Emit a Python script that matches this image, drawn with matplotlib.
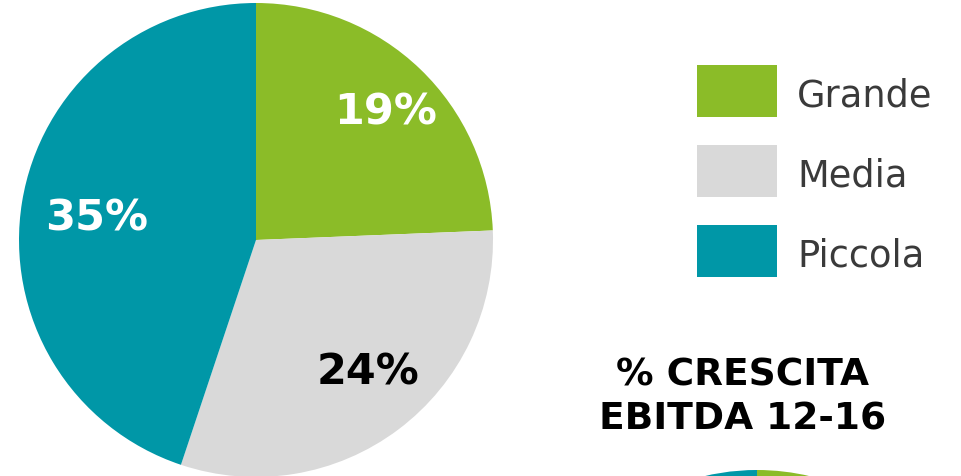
import numpy as np
import matplotlib
matplotlib.use("Agg")
import matplotlib.pyplot as plt
from matplotlib.patches import Rectangle

# ---- data ----
categories = ["Grande", "Media", "Piccola"]
share_values = [19, 24, 35]
share_labels = ["19%", "24%", "35%"]
growth_values = [30, 30, 40]  # second pie (only its top edge is visible)
title_lines = ["% CRESCITA", "EBITDA 12-16"]

colors = ["#8BBC28", "#D9D9D9", "#0097A7"]
label_colors = ["white", "black", "white"]
label_dist = [0.77, 0.73, 0.68]
label_nudge_x = [3, 8, 0]
label_nudge_y = [-4, 6, -4]

W, H = 962, 476
fig = plt.figure(figsize=(W / 100, H / 100), dpi=100)
ax = fig.add_axes([0, 0, 1, 1])
plt.rcParams["font.family"] = ["DejaVu Sans"]

# main pie
c1 = (256, H - 240)
r1 = 237
wedges, _ = ax.pie(share_values, colors=colors, startangle=90, counterclock=False,
                   center=c1, radius=r1, frame=True,
                   wedgeprops=dict(linewidth=0))
for w, lab, col, d, nx, ny in zip(wedges, share_labels, label_colors, label_dist,
                                  label_nudge_x, label_nudge_y):
    ang = np.deg2rad((w.theta1 + w.theta2) / 2)
    x = c1[0] + d * r1 * np.cos(ang) + nx
    y = c1[1] + d * r1 * np.sin(ang) + ny
    ax.text(x, y, lab, color=col, fontsize=31, fontweight="bold",
            ha="center", va="center")

# second pie (mostly outside the figure)
c2 = (757, H - 700)
r2 = 230
ax.pie(growth_values, colors=colors, startangle=90, counterclock=False,
       center=c2, radius=r2, frame=True, wedgeprops=dict(linewidth=0))

ax.set_xlim(0, W)
ax.set_ylim(0, H)
ax.set_aspect("equal")
ax.axis("off")

# legend
box_x, box_w, box_h = 697, 80, 52
box_tops = [65, 145, 225]
for cat, col, top in zip(categories, colors, box_tops):
    ax.add_patch(Rectangle((box_x, H - top - box_h), box_w, box_h,
                           facecolor=col, edgecolor="none"))
    ax.text(box_x + box_w + 20, H - top - box_h / 2 - 5, cat, fontsize=26.5,
            color="#3A3A3A", ha="left", va="center")

# title
ax.text(743, H - 376, title_lines[0], fontsize=27, fontweight="bold",
        color="black", ha="center", va="center")
ax.text(743, H - 420, title_lines[1], fontsize=27, fontweight="bold",
        color="black", ha="center", va="center")

fig.savefig("out.png", dpi=100)
